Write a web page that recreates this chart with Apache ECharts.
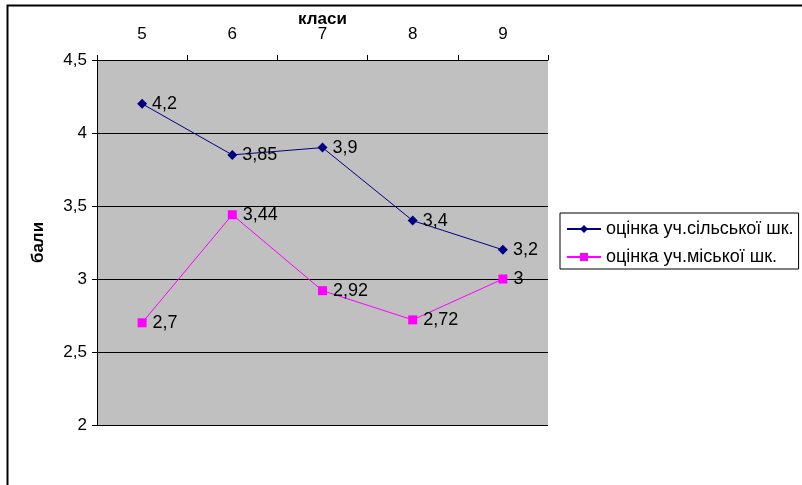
<!DOCTYPE html>
<html><head><meta charset="utf-8">
<script src="https://cdn.jsdelivr.net/npm/echarts@6/dist/echarts.min.js"></script>
<style>html,body{margin:0;padding:0;background:#fff}#c{width:802px;height:485px}</style>
</head><body><div id="c"></div>
<script>
const categories = ['5', '6', '7', '8', '9'];
const seriesNames = ['оцінка уч.сільської шк.', 'оцінка уч.міської шк.'];
const ruralValues = [4.2, 3.85, 3.9, 3.4, 3.2];
const urbanValues = [2.7, 3.44, 2.92, 2.72, 3];
const yTicks = { min: 2, max: 4.5, interval: 0.5 };

const fmt = v => String(v).replace('.', ',');
const font = 'Liberation Sans, Arial, sans-serif';
const chart = echarts.init(document.getElementById('c'));
chart.setOption({
  animation: false,
  backgroundColor: '#fff',
  textStyle: { fontFamily: font },
  graphic: [{
    type: 'rect', left: 5, top: 3, silent: true, z: 100,
    shape: { width: 900, height: 600 },
    style: { fill: 'none', stroke: '#000', lineWidth: 2 }
  }],
  grid: { left: 97, top: 60, width: 451, height: 365, show: true, backgroundColor: '#C0C0C0', borderWidth: 0, containLabel: false, outerBoundsMode: 'none' },
  legend: {
    orient: 'vertical', left: 560, top: 213,
    padding: [7, 5, 3, 6], itemGap: 10, itemWidth: 34, itemHeight: 10,
    borderColor: '#000', borderWidth: 1,
    textStyle: { fontFamily: font, fontSize: 18, color: '#000' },
    data: seriesNames
  },
  xAxis: {
    type: 'category', position: 'top', data: categories,
    name: 'класи', nameLocation: 'middle', nameGap: 32, nameMoveOverlap: false,
    nameTextStyle: { fontFamily: font, fontSize: 17, fontWeight: 'bold', color: '#000' },
    axisLine: { lineStyle: { color: '#000', width: 1 } },
    axisTick: { show: true, length: 5, lineStyle: { color: '#000' } },
    axisLabel: { fontFamily: font, fontSize: 17, color: '#000', margin: 17 },
    splitLine: { show: false }
  },
  yAxis: {
    type: 'value', min: yTicks.min, max: yTicks.max, interval: yTicks.interval,
    name: 'бали', nameLocation: 'middle', nameGap: 50, nameRotate: 90, nameMoveOverlap: false,
    nameTextStyle: { fontFamily: font, fontSize: 17, fontWeight: 'bold', color: '#000' },
    axisLine: { show: true, lineStyle: { color: '#000', width: 1 } },
    axisTick: { show: true, length: 5, lineStyle: { color: '#000' } },
    axisLabel: { fontFamily: font, fontSize: 17, color: '#000', margin: 10, formatter: fmt },
    splitLine: { show: true, lineStyle: { color: '#000', width: 1 } }
  },
  series: [
    {
      name: seriesNames[0], type: 'line', data: ruralValues,
      symbol: 'diamond', symbolSize: 10,
      itemStyle: { color: '#000080' }, lineStyle: { color: '#000080', width: 1 },
      label: { show: true, position: 'right', distance: 5, fontFamily: font, fontSize: 18, color: '#000', formatter: p => fmt(p.value) }
    },
    {
      name: seriesNames[1], type: 'line', data: urbanValues,
      symbol: 'rect', symbolSize: 9,
      itemStyle: { color: '#FF00FF' }, lineStyle: { color: '#FF00FF', width: 1 },
      label: { show: true, position: 'right', distance: 6, fontFamily: font, fontSize: 18, color: '#000', formatter: p => fmt(p.value) }
    }
  ]
});
</script></body></html>
